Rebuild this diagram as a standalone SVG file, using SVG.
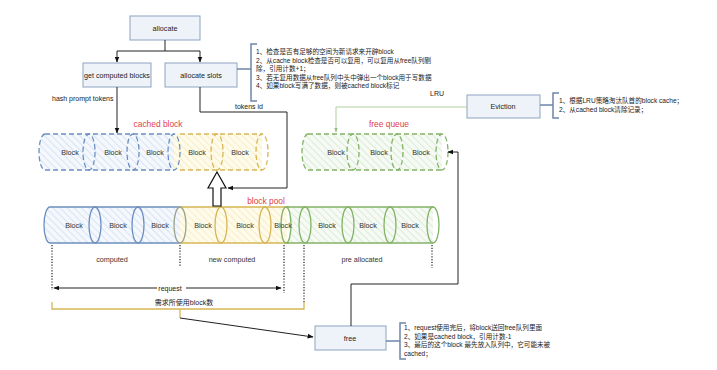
<svg xmlns="http://www.w3.org/2000/svg" width="717" height="370" viewBox="0 0 717 370">
<defs>
<pattern id="hb" patternUnits="userSpaceOnUse" width="5" height="5" patternTransform="rotate(-45)"><rect width="5" height="5" fill="#f4f8fd"/><line x1="0" y1="0" x2="0" y2="5" stroke="#c5d6ee" stroke-width="1.2"/></pattern>
<pattern id="hy" patternUnits="userSpaceOnUse" width="5" height="5" patternTransform="rotate(-45)"><rect width="5" height="5" fill="#fffbea"/><line x1="0" y1="0" x2="0" y2="5" stroke="#f3e4b0" stroke-width="1.2"/></pattern>
<pattern id="hg" patternUnits="userSpaceOnUse" width="5" height="5" patternTransform="rotate(-45)"><rect width="5" height="5" fill="#f6faf4"/><line x1="0" y1="0" x2="0" y2="5" stroke="#cde2c4" stroke-width="1.2"/></pattern>
<marker id="ah" viewBox="0 0 10 10" refX="9" refY="5" markerWidth="6" markerHeight="6" orient="auto-start-reverse"><path d="M0,1 L10,5 L0,9 Z" fill="#111"/></marker>
<marker id="ahg" viewBox="0 0 10 10" refX="9" refY="5" markerWidth="5" markerHeight="5" orient="auto"><path d="M0,1 L10,5 L0,9 Z" fill="#9bbf88"/></marker>
</defs>
<style>
text{font-family:"Liberation Sans","Noto Sans CJK SC",sans-serif;fill:#222}
.box{fill:#eef3fa;stroke:#8ea3c2;stroke-width:1}
.lbl{font-size:7.2px;text-anchor:middle;dominant-baseline:central}
.blk{font-size:7.2px;text-anchor:middle;dominant-baseline:central;fill:#333}
.note{font-size:6.6px}
.red{font-size:8.4px;fill:#e0404a;text-anchor:middle}
.sm{font-size:7px}
.brk{fill:none;stroke:#6d85a8;stroke-width:1.5}
.ln{fill:none;stroke:#222;stroke-width:1}
.dot{fill:none;stroke:#222;stroke-width:1.2;stroke-dasharray:1.2,1.6}
.sb{stroke:#6c8ebf;stroke-width:1.3}
.sy{stroke:#d6b656;stroke-width:1.3}
.sg{stroke:#82b366;stroke-width:1.3}
.ds{stroke-dasharray:5,3}
.el{fill:none}
</style>

<g id="node-allocate"><rect class="box" x="130" y="16" width="70" height="24"/><text class="lbl" x="165" y="28">allocate</text></g>
<g id="node-get-computed"><rect class="box" x="83" y="63" width="68" height="24"/><text class="lbl" x="117" y="75">get computed blocks</text></g>
<g id="node-allocate-slots"><rect class="box" x="165" y="63" width="72" height="24"/><text class="lbl" x="201" y="75">allocate slots</text></g>
<g id="node-slots-note">
<path class="brk" d="M257,44 H251 V101 H257"/>
<text class="note" x="256" y="54">1、检查是否有足够的空间为新请求来开辟block</text>
<text class="note" x="256" y="62.5">2、从cache block检查是否可以复用，可以复用从free队列剔</text>
<text class="note" x="256" y="71">除，引用计数+1；</text>
<text class="note" x="256" y="79.5">3、若无复用数据从free队列中头中弹出一个block用于写数据</text>
<text class="note" x="256" y="88">4、如果block写满了数据，则被cached block标记</text>
</g>
<g id="node-eviction"><rect class="box" x="467" y="95" width="73" height="23"/><text class="lbl" x="503" y="106.5">Eviction</text></g>
<g id="node-eviction-note">
<path class="brk" d="M559,93 H553 V118 H559"/>
<text class="note" x="559" y="103">1、根据LRU策略淘汰队首的block cache；</text>
<text class="note" x="559" y="112">2、从cached block清除记录；</text>
</g>
<g id="node-free"><rect class="box" x="315" y="326" width="71" height="24"/><text class="lbl" x="350" y="338">free</text></g>
<g id="node-free-note">
<path class="brk" d="M406,323 H400 V359 H406"/>
<text class="note" x="404" y="330">1、request使用完后，将block送回free队列里面</text>
<text class="note" x="404" y="338.5">2、如果是cached block，引用计数-1</text>
<text class="note" x="404" y="347">3、最后的这个block 最先放入队列中，它可能未被</text>
<text class="note" x="404" y="355.5">cached；</text>
</g>

<g id="node-cached-block">
<text class="red" x="158" y="127">cached block</text>
<path d="M45,134 H174 V170 H45 A6,18 0 0 1 45,134 Z" fill="url(#hb)"/>
<path class="sb ds" fill="none" d="M45,134 H174 M45,170 H174 M45,134 A6,18 0 0 0 45,170"/>
<ellipse class="el sb ds" cx="89" cy="152" rx="6" ry="18"/>
<ellipse class="el sb ds" cx="133" cy="152" rx="6" ry="18"/>
<path d="M174,134 H262 V170 H174 Z" fill="url(#hy)"/>
<ellipse class="el sb ds" cx="174" cy="152" rx="6" ry="18"/>
<path class="sy ds" fill="none" d="M180,134 H262 M180,170 H262"/>
<ellipse class="el sy ds" cx="217" cy="152" rx="6" ry="18"/>
<ellipse class="el sy ds" cx="262" cy="152" rx="6" ry="18"/>
<text class="blk" x="70" y="152">Block</text>
<text class="blk" x="113" y="152">Block</text>
<text class="blk" x="155" y="152">Block</text>
<text class="blk" x="197" y="152">Block</text>
<text class="blk" x="240" y="152">Block</text>
</g>

<g id="node-free-queue">
<text class="red" x="389" y="127">free queue</text>
<path d="M308,134 H442 V170 H308 A6,18 0 0 1 308,134 Z" fill="url(#hg)"/>
<path class="sg ds" fill="none" d="M308,134 H442 M308,170 H442 M308,134 A6,18 0 0 0 308,170"/>
<ellipse class="el sg ds" cx="353" cy="152" rx="6" ry="18"/>
<ellipse class="el sg ds" cx="397" cy="152" rx="6" ry="18"/>
<ellipse class="el sg ds" cx="442" cy="152" rx="6" ry="18"/>
<text class="blk" x="336" y="152">Block</text>
<text class="blk" x="379" y="152">Block</text>
<text class="blk" x="421" y="152">Block</text>
</g>

<g id="node-block-pool">
<text class="red" x="266" y="204">block pool</text>
<path d="M50,207 H180 V243 H50 A6,18 0 0 1 50,207 Z" fill="url(#hb)"/>
<path class="sb" fill="none" d="M50,207 H180 M50,243 H180 M50,207 A6,18 0 0 0 50,243"/>
<ellipse class="el sb" cx="95" cy="225" rx="6" ry="18"/>
<ellipse class="el sb" cx="138" cy="225" rx="6" ry="18"/>
<path d="M180,207 H287 V243 H180 Z" fill="url(#hy)"/>
<path class="sy" fill="none" d="M180,207 H289 M180,243 H289"/>
<ellipse class="el" stroke="#9aa38a" stroke-width="1.3" cx="180" cy="225" rx="6" ry="18"/>
<ellipse class="el sy" cx="221" cy="225" rx="6" ry="18"/>
<ellipse class="el sy" cx="265" cy="225" rx="6" ry="18"/>
<path d="M289,207 H433 V243 H289 Z" fill="url(#hg)"/>
<path class="sg" fill="none" d="M287,207 H433 M287,243 H433"/>
<ellipse class="el sg" cx="286" cy="225" rx="5" ry="18"/>
<ellipse class="el sg" cx="305" cy="225" rx="6" ry="18"/>
<ellipse class="el sg" cx="348" cy="225" rx="6" ry="18"/>
<ellipse class="el sg" cx="390" cy="225" rx="6" ry="18"/>
<ellipse class="el sg" cx="433" cy="225" rx="6" ry="18"/>
<text class="blk" x="74" y="225">Block</text>
<text class="blk" x="118" y="225">Block</text>
<text class="blk" x="160" y="225">Block</text>
<text class="blk" x="203" y="225">Block</text>
<text class="blk" x="245" y="225">Block</text>
<text class="blk" x="283" y="225">Block</text>
<text class="blk" x="327" y="225">Block</text>
<text class="blk" x="368" y="225">Block</text>
<text class="blk" x="410" y="225">Block</text>
<text class="blk" x="112" y="259">computed</text>
<text class="blk" x="232" y="259">new computed</text>
<text class="blk" x="362" y="259">pre allocated</text>
</g>

<g id="connectors">
<path class="ln" d="M165,40 V51 M117,51 H200"/>
<path class="ln" d="M117,51 V62" marker-end="url(#ah)"/>
<path class="ln" d="M200,51 V62" marker-end="url(#ah)"/>
<path class="brk" d="M237,69 H251"/>
<path class="ln" d="M117,87 V133" marker-end="url(#ah)"/>
<text class="sm" x="52" y="101">hash prompt tokens</text>
<path class="ln" d="M200,87 V112 H287 V188 H228" marker-end="url(#ah)"/>
<text class="sm" x="235" y="109">tokens id</text>
<polygon points="217,172 226,188 221,188 221,206 213,206 213,188 208,188" fill="#fff" stroke="#111" stroke-width="1.2"/>
<path fill="none" stroke="#b3cfa3" stroke-width="1" d="M467,107 H336 V132" marker-end="url(#ahg)"/>
<text class="sm" x="430" y="96">LRU</text>
<path class="brk" d="M540,105 H553"/>
<path class="dot" d="M52,245 V290"/>
<path class="dot" d="M180,245 V266"/>
<path class="dot" d="M284,245 V293"/>
<path class="dot" d="M304,245 V302"/>
<path class="dot" d="M432,245 V268"/>
<path class="ln" d="M157,288 H54" marker-end="url(#ah)"/>
<path class="ln" d="M186,288 H281" marker-end="url(#ah)"/>
<text class="sm" x="170" y="290.5" text-anchor="middle">request</text>
<text class="sm" x="184" y="305" text-anchor="middle">需求所使用block数</text>
<path fill="none" stroke="#d6b656" stroke-width="1.3" d="M52,302 V309 H304 V302 M180,309 V318"/>
<path class="ln" d="M180,318 L313,337" marker-end="url(#ah)"/>
<path class="ln" d="M351,326 V284 H458 V152 H448" marker-end="url(#ah)"/>
<path class="brk" d="M386,341 H400"/>
</g>
</svg>
